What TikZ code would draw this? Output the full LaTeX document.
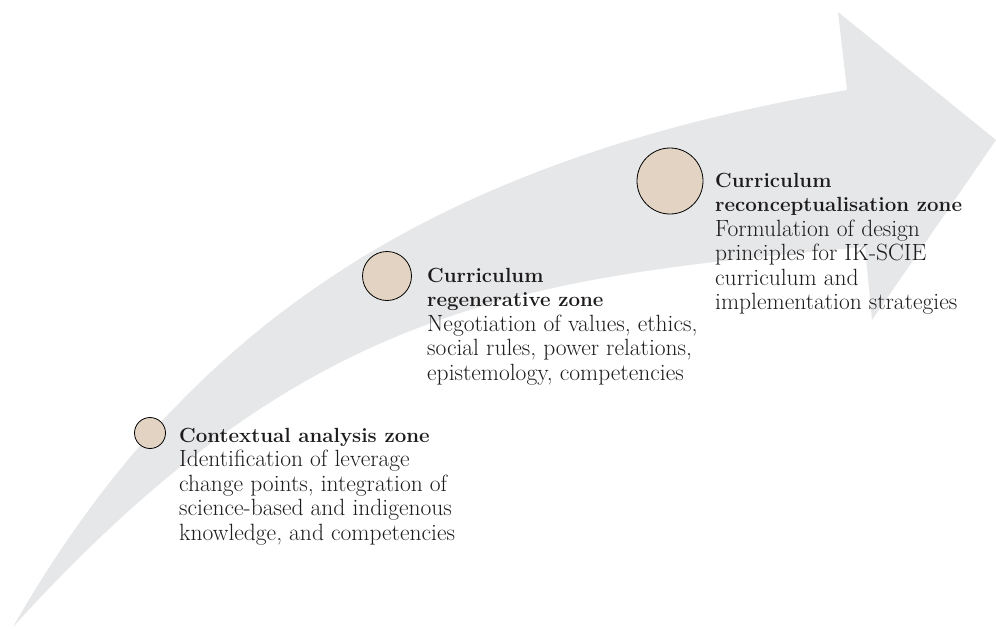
\documentclass[tikz,border=0pt]{standalone}
\usepackage{fontspec}
\definecolor{arrowgray}{RGB}{230,231,232}
\definecolor{zonefill}{RGB}{227,211,195}
\definecolor{ink}{RGB}{30,27,28}
\newcommand{\zonetxt}[2]{\parbox[t]{320pt}{\fontsize{23.5}{24.5}\selectfont\addfontfeatures{FakeBold=0.3}\raggedright{\fontsize{20.5}{24.5}\selectfont\bfseries #1}\\#2}}
\begin{document}
\begin{tikzpicture}[x=1pt,y=-1pt,
  zonedot/.style={circle, draw=black, line width=0.8pt, fill=zonefill, inner sep=0pt},
  zonetext/.style={anchor=base west, inner sep=0pt, text=ink}]
\useasboundingbox (0,0) rectangle (996,629);
% big curved arrow
\fill[arrowgray]
  (13,627) .. controls (190,317) and (443,159) .. (847,90)
  -- (838,12) -- (996,140) -- (872,320) -- (865,247)
  .. controls (520.5,278) and (307,303) .. (13,627)
  -- cycle;
% zone markers
\node[zonedot, minimum size=31pt] (c1) at (150,433) {};
\node[zonedot, minimum size=49pt] (c2) at (387,276) {};
\node[zonedot, minimum size=66pt] (c3) at (670,181) {};
% texts
\node[zonetext] (t1) at (179,442) {\zonetxt{Contextual analysis zone}{Identification of leverage\\change points, integration of\\science-based and indigenous\\knowledge, and competencies}};
\node[zonetext] (t2) at (427,282) {\zonetxt{Curriculum\\regenerative zone}{Negotiation of values, ethics,\\social rules, power relations,\\epistemology, competencies}};
\node[zonetext] (t3) at (715,187) {\zonetxt{Curriculum\\reconceptualisation zone}{Formulation of design\\principles for IK-SCIE\\curriculum and\\implementation strategies}};
\end{tikzpicture}
\end{document}
